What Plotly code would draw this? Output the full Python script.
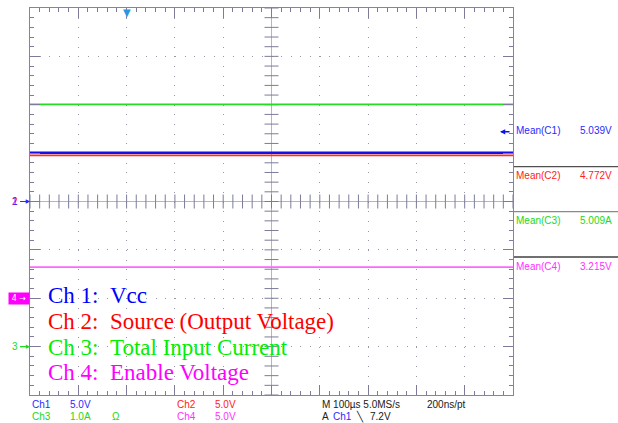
import numpy as np
import plotly.graph_objects as go

# ---------------- data ----------------
time_us = [-500, 500]                     # record span, 100 us/div, centre = 0
ch_labels = ["Ch 1:", "Ch 2:", "Ch 3:", "Ch 4:"]
ch_desc = ["Vcc", "Source (Output Voltage)", "Total Input Current", "Enable Voltage"]
mean_names = ["Mean(C1)", "Mean(C2)", "Mean(C3)", "Mean(C4)"]
mean_values = [5.039, 4.772, 5.009, 3.215]
mean_units = ["V", "V", "A", "V"]
scale_per_div = [5.0, 5.0, 1.0, 5.0]
ground_div = [0, 0, -3, -2]
ground_marks = ["1", "2", "3", "4"]
trace_colors = ["#1010e8", "#ff2a2a", "#22dd22", "#ff66ff"]
text_colors = ["#0000ff", "#ff0000", "#00ee00", "#ff00ff"]
small_colors = ["#2a2aff", "#ff2020", "#22d822", "#ff30ff"]
trace_widths = [2.4, 1.8, 1.8, 1.8]
trigger_time_us = -300
trigger_level_v = 7.2
scale_text = [["Ch1", "5.0V"], ["Ch2", "5.0V"], ["Ch3", "1.0A"], ["Ch4", "5.0V"]]

W, H = 618, 423
L, R, T, B = 30, 105, 8, 28
PW, PH = W - L - R, H - T - B


def px(xp):
    return (xp - L) / PW


def py(yp):
    return 1 - (yp - T) / PH


fig = go.Figure()

tick_col = "#7c7c9a"
# centre-cross ticks
xt = np.arange(-500, 501, 20)
fig.add_trace(go.Scatter(x=xt, y=np.zeros_like(xt), mode="markers", hoverinfo="skip",
                         marker=dict(symbol="line-ns", size=10, line=dict(width=1, color=tick_col)),
                         showlegend=False))
yt = np.arange(-4, 4.001, 0.2)
fig.add_trace(go.Scatter(x=np.zeros_like(yt), y=yt, mode="markers", hoverinfo="skip",
                         marker=dict(symbol="line-ew", size=10, line=dict(width=1, color=tick_col)),
                         showlegend=False))

# waveforms
for i in range(4):
    yv = [m / scale_per_div[i] + ground_div[i] for m in [mean_values[i]] * len(time_us)]
    fig.add_trace(go.Scatter(x=time_us, y=yv, mode="lines",
                             line=dict(color=trace_colors[i], width=trace_widths[i]),
                             showlegend=False, hoverinfo="skip"))

ann = []
# legend block
legend_y = [295, 321, 347, 372.5]
for i in range(4):
    ann.append(dict(xref="paper", yref="paper", x=px(45.5), y=py(legend_y[i]),
                    xanchor="left", yanchor="middle", showarrow=False,
                    text=ch_labels[i] + "\u00a0\u00a0" + ch_desc[i],
                    font=dict(family="Liberation Serif", size=23, color=text_colors[i])))

# mean readouts
mean_y = [130, 175, 220.5, 266]
for i in range(4):
    ann.append(dict(xref="paper", yref="paper", x=px(514), y=py(mean_y[i]),
                    xanchor="left", yanchor="middle", showarrow=False, text=mean_names[i],
                    font=dict(family="Liberation Sans", size=10, color=small_colors[i])))
    ann.append(dict(xref="paper", yref="paper", x=px(578), y=py(mean_y[i]),
                    xanchor="left", yanchor="middle", showarrow=False,
                    text=f"{mean_values[i]:.3f}{mean_units[i]}",
                    font=dict(family="Liberation Sans", size=10, color=small_colors[i])))

# bottom status
rows = [405, 416]
pos = [(0, 30, 68, 0), (1, 175, 213, 0), (2, 30, 68, 1), (3, 175, 213, 1)]
for i, xa, xb, r in pos:
    for txt, xx in zip(scale_text[i], [xa, xb]):
        ann.append(dict(xref="paper", yref="paper", x=px(xx), y=py(rows[r]),
                        xanchor="left", yanchor="middle", showarrow=False, text=txt,
                        font=dict(family="Liberation Sans", size=10, color=small_colors[i])))


def small(txt, xx, yy, col):
    ann.append(dict(xref="paper", yref="paper", x=px(xx), y=py(yy), xanchor="left",
                    yanchor="middle", showarrow=False, text=txt,
                    font=dict(family="Liberation Sans", size=10, color=col)))


small("\u03a9", 110, rows[1], small_colors[2])
small("M 100\u00b5s 5.0MS/s", 320, rows[0], "#202020")
small("200ns/pt", 425, rows[0], "#202020")
small("A", 320, rows[1], "#202020")
small("Ch1", 331, rows[1], small_colors[0])
small("\u2572", 354, rows[1], "#202020")
small("%.1fV" % trigger_level_v, 368, rows[1], "#202020")

# ground markers
for i in [1, 0, 2]:
    ann.append(dict(xref="paper", yref="y", x=0, y=ground_div[i], ax=-10, ay=0,
                    showarrow=True, arrowhead=2, arrowsize=0.7, arrowwidth=1.2,
                    arrowcolor=small_colors[i] if i != 1 else small_colors[0],
                    text=ground_marks[i], xanchor="right",
                    font=dict(family="Liberation Sans", size=10, color=small_colors[i])))
ann.append(dict(xref="paper", yref="y", x=0, y=ground_div[3], xanchor="right",
                yanchor="middle", showarrow=False, text="4 \u2192",
                bgcolor="#ff00ff", width=20, height=11, borderpad=0,
                font=dict(family="DejaVu Sans", size=8, color="white")))
# trigger level arrow (ch1) at right edge
ann.append(dict(xref="paper", yref="y", x=px(500), y=trigger_level_v / scale_per_div[0] + ground_div[0],
                ax=11, ay=0, showarrow=True, arrowhead=2, arrowsize=0.7, arrowwidth=1.5,
                arrowcolor="#1010e8", text=""))
# trigger position marker
ann.append(dict(xref="x", yref="paper", x=trigger_time_us, y=1, xanchor="center", yanchor="top",
                showarrow=False, text="\u25bc", yshift=3,
                font=dict(family="DejaVu Sans", size=10, color="#2a96e0")))

shapes = []
for yy, c in zip([166.7, 211.7, 257], ["#505050", "#8a8a8a", "#404040"]):
    shapes.append(dict(type="line", xref="paper", yref="paper", x0=px(514), x1=px(618),
                       y0=py(yy), y1=py(yy), line=dict(color=c, width=1.3)))

axis_common = dict(showgrid=True, gridwidth=1, gridcolor="#9696a6",
                   zeroline=True, zerolinecolor="#b4b4c8", zerolinewidth=1,
                   showline=True, linecolor="#8484a0", linewidth=1, mirror="allticks",
                   ticks="inside", ticklen=10, tickcolor=tick_col, tickwidth=1,
                   showticklabels=False, fixedrange=True)
fig.update_xaxes(range=[-500, 500], dtick=100, tick0=0, griddash="1px,8.675px",
                 minor=dict(dtick=20, ticks="inside", ticklen=4, tickcolor=tick_col, showgrid=False),
                 **axis_common)
fig.update_yaxes(range=[-4, 4], dtick=1, tick0=0, griddash="1px,8.66px",
                 minor=dict(dtick=0.2, ticks="inside", ticklen=4, tickcolor=tick_col, showgrid=False),
                 **axis_common)

fig.update_layout(width=W, height=H, margin=dict(l=L, r=R, t=T, b=B),
                  paper_bgcolor="white", plot_bgcolor="white",
                  annotations=ann, shapes=shapes, showlegend=False)

fig.write_html("out.html", config={"displayModeBar": False},
               post_script="document.body.style.margin='0px';document.body.style.padding='0px';")
